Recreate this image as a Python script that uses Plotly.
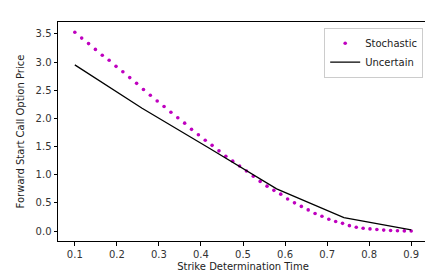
import plotly.graph_objects as go
import numpy as np

# Stochastic model: 50 strike determination times from 0.1 to 0.9
stoch_t = np.linspace(0.1, 0.9, 50)
stoch_price = [3.527, 3.424, 3.327, 3.224, 3.121, 3.031, 2.923, 2.826, 2.723, 2.621,
               2.513, 2.410, 2.308, 2.210, 2.108, 2.010, 1.915, 1.805, 1.709, 1.612,
               1.521, 1.424, 1.327, 1.241, 1.156, 1.065, 0.974, 0.882, 0.797, 0.723,
               0.655, 0.569, 0.501, 0.438, 0.376, 0.313, 0.262, 0.210, 0.171, 0.137,
               0.096, 0.068, 0.051, 0.039, 0.027, 0.017, 0.010, 0.005, 0.003, 0.002]

# Uncertain model: 6 strike determination times
unc_t = [0.1, 0.26, 0.42, 0.58, 0.74, 0.9]
unc_price = [2.95, 2.18, 1.47, 0.75, 0.24, 0.02]

x_ticks = [0.1, 0.2, 0.3, 0.4, 0.5, 0.6, 0.7, 0.8, 0.9]
y_ticks = [0.0, 0.5, 1.0, 1.5, 2.0, 2.5, 3.0, 3.5]

fig = go.Figure()
fig.add_trace(go.Scatter(x=stoch_t, y=stoch_price, mode="markers", name="Stochastic",
                         marker=dict(color="#bf00bf", size=3.6)))
fig.add_trace(go.Scatter(x=unc_t, y=unc_price, mode="lines", name="Uncertain",
                         line=dict(color="black", width=1.3)))

axis_common = dict(showline=True, mirror=True, linecolor="black", linewidth=1,
                   ticks="outside", ticklen=3.5, tickcolor="black", showgrid=False,
                   zeroline=False, tickfont=dict(family="DejaVu Sans", size=10, color="#333"),
                   title_font=dict(family="DejaVu Sans", size=10, color="#222"))

fig.update_layout(
    width=433, height=275,
    margin=dict(l=48, r=12, t=14, b=34),
    paper_bgcolor="white", plot_bgcolor="white",
    font=dict(family="DejaVu Sans", size=10, color="#222"),
    xaxis=dict(range=[0.06, 0.94], tickvals=x_ticks, tickformat=".1f",
               title=dict(text="Strike Determination Time", standoff=4), **axis_common),
    yaxis=dict(range=[-0.176, 3.71], tickvals=y_ticks, tickformat=".1f",
               title=dict(text="Forward Start Call Option Price", standoff=9), **axis_common),
    legend=dict(x=0.987, y=0.974, xanchor="right", yanchor="top",
                bordercolor="#cccccc", borderwidth=1, bgcolor="rgba(255,255,255,0.8)",
                font=dict(family="DejaVu Sans", size=10, color="#222"),
                itemwidth=30, tracegroupgap=0),
    showlegend=True,
)

fig.write_html("out.html")
